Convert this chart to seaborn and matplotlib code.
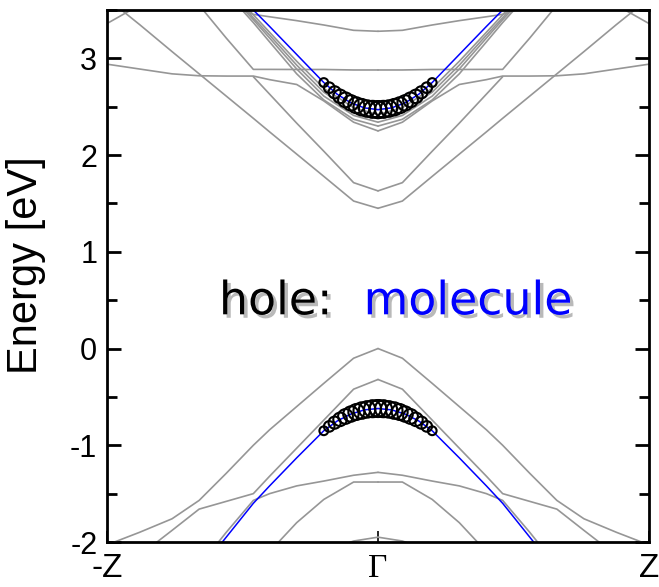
import matplotlib
matplotlib.use("Agg")
import matplotlib.pyplot as plt
import matplotlib.patheffects as pe
from matplotlib.ticker import MultipleLocator
import pandas as pd
import seaborn as sns

# k-path nodes on one half of the path (Gamma = 0, Z = 1); bands are mirrored to -Z
K_HALF = [0.0, 0.09, 0.2, 0.3, 0.4, 0.46, 0.56, 0.66, 0.76, 0.88, 1.0]

# gray bulk bands [eV], None = outside the plotted window
VB_1 = [0.00, -0.10, -0.36, -0.60, -0.84, -1.00, -1.29, -1.57, -1.76, -1.90, -2.03]
VB_2 = [-0.32, -0.42, -0.74, -1.03, -1.32, -1.50, -1.58, -1.66, -1.88, -2.14, -2.40]
VB_3 = [-1.28, -1.31, -1.37, -1.42, -1.50, -1.57, -1.90, -2.25, None, None, None]
VB_4 = [-1.38, -1.38, -1.56, -1.80, -2.10, -2.30, None, None, None, None, None]
VB_5 = [-1.95, -1.99, -2.10, None, None, None, None, None, None, None, None]

CB_LOW_V = [1.45, 1.525, 1.78, 2.01, 2.24, 2.38, 2.61, 2.84, 3.07, 3.35, 3.62]
CB_UP_V = [1.63, 1.715, 2.04, 2.33, 2.63, 2.81, None, None, None, None, None]
CB_EDGE = [2.25, 2.34, 2.56, 2.73, 2.78, 2.817, 2.817, 2.82, 2.84, 2.89, 2.94]
CB_B1 = [2.42, 2.49, 2.69, 2.97, 3.27, 3.45, 3.76, None, None, None, None]
CB_B2 = [2.38, 2.45, 2.65, 2.93, 3.24, 3.42, 3.73, None, None, None, None]
CB_B3 = [2.34, 2.41, 2.61, 2.89, 3.21, 3.40, 3.70, None, None, None, None]
CB_B4 = [2.30, 2.37, 2.57, 2.84, 3.17, 3.37, 3.68, None, None, None, None]
CB_FLAT = [2.88, 2.88, 2.885, 2.885, 2.886, 2.886, 3.21, 3.55, None, None, None]
CB_TOP = [3.28, 3.29, 3.345, 3.39, 3.43, 3.455, 3.55, None, None, None, None]
CB_CORNER = [None, None, None, None, None, None, None, None, None, 3.55, 3.36]

GRAY_BANDS = {
    "vb1": VB_1, "vb2": VB_2, "vb3": VB_3, "vb4": VB_4, "vb5": VB_5,
    "cb_low_v": CB_LOW_V, "cb_up_v": CB_UP_V, "cb_edge": CB_EDGE,
    "cb_b1": CB_B1, "cb_b2": CB_B2, "cb_b3": CB_B3, "cb_b4": CB_B4,
    "cb_flat": CB_FLAT, "cb_top": CB_TOP, "cb_corner": CB_CORNER,
}

# molecule-derived bands (blue)
BLUE_K = [0.0, 0.05, 0.1, 0.15, 0.2, 0.3, 0.4, 0.46, 0.56, 0.66]
BLUE_VB = [-0.62, -0.634, -0.677, -0.748, -0.85, -1.13, -1.42, -1.60, -1.95, -2.30]
BLUE_CB = [2.47, 2.488, 2.54, 2.628, 2.75, 3.04, 3.33, 3.50, 3.80, 4.10]

# projected weight circles
DOT_K = [0.0, 0.02, 0.04, 0.06, 0.08, 0.10, 0.12, 0.14, 0.16, 0.18, 0.20]
DOT_VB = [-0.62, -0.622, -0.629, -0.641, -0.656, -0.677, -0.702, -0.732, -0.766, -0.805, -0.85]
DOT_CB = [2.47, 2.473, 2.481, 2.495, 2.515, 2.54, 2.571, 2.607, 2.649, 2.697, 2.75]
DOT_W = [1.0, 1.0, 0.95, 0.95, 0.9, 0.85, 0.8, 0.7, 0.6, 0.5, 0.4]

K_LABELS = ["-Z", "\u0393", "Z"]


def mirrored(k_half, e_half, name):
    rows = []
    for side in (-1, 1):
        for k, e in zip(k_half, e_half):
            if e is None:
                continue
            rows.append({"k": side * k, "E": e, "band": f"{name}_{side}"})
    return rows


gray_rows = []
for name, vals in GRAY_BANDS.items():
    gray_rows += mirrored(K_HALF, vals, name)
gray_df = pd.DataFrame(gray_rows)

blue_df = pd.DataFrame(mirrored(BLUE_K, BLUE_VB, "vb") + mirrored(BLUE_K, BLUE_CB, "cb"))

dot_rows = []
for side in (-1, 1):
    for k, ev, ec, w in zip(DOT_K, DOT_VB, DOT_CB, DOT_W):
        dot_rows.append({"k": side * k, "E": ev, "w": w})
        dot_rows.append({"k": side * k, "E": ec, "w": w})
dot_df = pd.DataFrame(dot_rows)

sns.set_style("ticks")
plt.rcParams["font.family"] = ["Liberation Sans", "DejaVu Sans"]
plt.rcParams["axes.unicode_minus"] = False
plt.rcParams.update({"text.color": "black", "axes.labelcolor": "black",
                     "xtick.color": "black", "ytick.color": "black"})

fig = plt.figure(figsize=(6.59, 5.87), dpi=100)
fig.patch.set_facecolor("white")
ax = fig.add_axes([107 / 659, 1 - 542 / 587, 542 / 659, 532 / 587])
ax.set_facecolor("white")

sns.lineplot(data=gray_df, x="k", y="E", units="band", estimator=None,
             color="#969696", linewidth=1.2, ax=ax, legend=False)
sns.lineplot(data=blue_df, x="k", y="E", units="band", estimator=None,
             color="#0000ff", linewidth=1.1, ax=ax, legend=False)
sns.scatterplot(data=dot_df, x="k", y="E", size="w", sizes=(40, 150),
                facecolor="none", edgecolor="black", linewidth=1.5,
                ax=ax, legend=False, zorder=5)

ax.set_xlim(-1, 1)
ax.set_ylim(-2, 3.5)

ax.yaxis.set_major_locator(MultipleLocator(1))
ax.yaxis.set_minor_locator(MultipleLocator(0.5))
ax.tick_params(axis="y", which="both", direction="in", left=True, right=True,
               labelsize=22, pad=7, width=2, colors="black")
ax.tick_params(axis="y", which="major", length=10)
ax.tick_params(axis="y", which="minor", length=7)

ax.set_xticks([-1, 0, 1])
ax.set_xticklabels(K_LABELS)
ax.tick_params(axis="x", which="both", direction="in", length=8, width=1.2,
               labelsize=24, pad=8, top=False, colors="black")
ax.get_xticklabels()[1].set_fontfamily("Liberation Serif")

for sp in ax.spines.values():
    sp.set_visible(True)
    sp.set_linewidth(2)
    sp.set_color("black")

ax.set_xlabel("")
ax.set_ylabel("Energy [eV]", fontsize=30, color="black")
ax.yaxis.set_label_coords(-0.113, 0.52)

shadow = [pe.withSimplePatchShadow(offset=(2.5, -2.5), shadow_rgbFace=(0.5, 0.5, 0.5), alpha=0.55)]
ax.text(-0.168, 0.354, "hole:", color="black", fontsize=33, ha="right", va="baseline",
        family="DejaVu Sans", path_effects=shadow, zorder=6)
ax.text(-0.053, 0.354, "molecule", color="#0000ff", fontsize=33, ha="left", va="baseline",
        family="DejaVu Sans", path_effects=shadow, zorder=6)

fig.savefig("out.png", dpi=100, facecolor="white")
